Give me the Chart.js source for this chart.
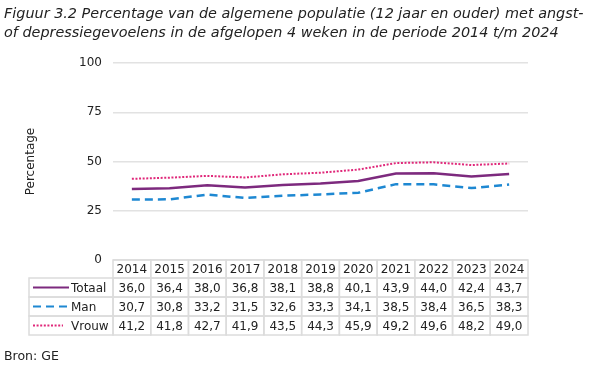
<!DOCTYPE html>
<html>
<head>
<meta charset="utf-8">
<script src="https://cdn.jsdelivr.net/npm/chart.js@4.4.1/dist/chart.umd.min.js"></script>
<style>
  html, body { margin: 0; padding: 0; background: #fff; }
  #wrap { position: relative; width: 600px; height: 367px; font-family: "DejaVu Sans", Verdana, sans-serif; color: #222; }
  #title { position: absolute; left: 4px; top: 4px; font-size: 14.4px; font-style: italic; line-height: 19px; white-space: nowrap; }
  #source { position: absolute; left: 4px; top: 348px; font-size: 12.5px; }
  canvas { position: absolute; left: 0; top: 0; }
</style>
</head>
<body>
<div id="wrap">
  <canvas id="chart" width="600" height="367"></canvas>
  <div id="title">Figuur 3.2 Percentage van de algemene populatie (12 jaar en ouder) met angst-<br>of depressiegevoelens in de afgelopen 4 weken in de periode 2014 t/m 2024</div>
  <div id="source">Bron: GE</div>
</div>
<script>
// data
const years = ['2014', '2015', '2016', '2017', '2018', '2019', '2020', '2021', '2022', '2023', '2024'];
const totaal = [36.0, 36.4, 38.0, 36.8, 38.1, 38.8, 40.1, 43.9, 44.0, 42.4, 43.7];
const man = [30.7, 30.8, 33.2, 31.5, 32.6, 33.3, 34.1, 38.5, 38.4, 36.5, 38.3];
const vrouw = [41.2, 41.8, 42.7, 41.9, 43.5, 44.3, 45.9, 49.2, 49.6, 48.2, 49.0];
const yTicks = [0, 25, 50, 75, 100];

const FONT = '"DejaVu Sans", Verdana, sans-serif';
const colors = { totaal: '#7d2a7e', man: '#1e88d2', vrouw: '#e0287a' };

const fmt = v => v.toFixed(1).replace('.', ',');

// draws the data table under the plot, columns follow the x scale
const dataTable = {
  id: 'dataTable',
  afterDraw(chart) {
    const ctx = chart.ctx;
    const x = chart.scales.x;
    const area = chart.chartArea;
    const colW = (area.right - area.left) / years.length;
    const top = area.bottom;
    const headH = 18, rowH = 19;
    const labelLeft = 29;
    const rows = [
      { name: 'Totaal', values: totaal, color: colors.totaal, dash: [], len: 36 },
      { name: 'Man', values: man, color: colors.man, dash: [8, 5], len: 36 },
      { name: 'Vrouw', values: vrouw, color: colors.vrouw, dash: [2, 1.6], len: 30 }
    ];

    ctx.save();
    ctx.strokeStyle = '#dcdcdc';
    ctx.lineWidth = 1.5;
    // header cells
    years.forEach((y, i) => {
      ctx.strokeRect(area.left + i * colW, top, colW, headH);
    });
    // body cells
    rows.forEach((r, ri) => {
      const y0 = top + headH + ri * rowH;
      ctx.strokeRect(labelLeft, y0, area.left - labelLeft, rowH);
      years.forEach((yr, i) => {
        ctx.strokeRect(area.left + i * colW, y0, colW, rowH);
      });
    });

    ctx.fillStyle = '#222';
    ctx.font = '12px ' + FONT;
    ctx.textAlign = 'center';
    ctx.textBaseline = 'middle';
    years.forEach((y, i) => {
      ctx.fillText(y, x.getPixelForValue(i), top + headH / 2 + 1);
    });
    rows.forEach((r, ri) => {
      const yc = top + headH + ri * rowH + rowH / 2 + 1;
      r.values.forEach((v, i) => {
        ctx.fillText(fmt(v), x.getPixelForValue(i), yc);
      });
      // legend key
      ctx.save();
      ctx.strokeStyle = r.color;
      ctx.lineWidth = 2;
      ctx.setLineDash(r.dash);
      ctx.beginPath();
      ctx.moveTo(33, yc - 1);
      ctx.lineTo(33 + r.len, yc - 1);
      ctx.stroke();
      ctx.restore();
      ctx.textAlign = 'left';
      ctx.fillText(r.name, 71, yc);
      ctx.textAlign = 'center';
    });
    ctx.restore();
  }
};

new Chart(document.getElementById('chart'), {
  type: 'line',
  data: {
    labels: years,
    datasets: [
      { label: 'Totaal', data: totaal, borderColor: colors.totaal, borderWidth: 2.5, pointRadius: 0, tension: 0 },
      { label: 'Man', data: man, borderColor: colors.man, borderWidth: 2.5, borderDash: [8, 5], pointRadius: 0, tension: 0 },
      { label: 'Vrouw', data: vrouw, borderColor: colors.vrouw, borderWidth: 2, borderDash: [2, 1.6], pointRadius: 0, tension: 0 }
    ]
  },
  options: {
    responsive: false,
    animation: false,
    layout: { padding: { left: 20, right: 72, top: 63, bottom: 107 } },
    plugins: { legend: { display: false }, tooltip: { enabled: false } },
    scales: {
      x: { display: false, offset: true },
      y: {
        min: 0, max: 100,
        afterFit: s => { s.width = 93; },
        afterBuildTicks: s => { s.ticks = yTicks.map(v => ({ value: v })); },
        border: { display: false },
        grid: { color: '#e2e2e2', lineWidth: 1.5, drawTicks: false },
        ticks: { color: '#222', font: { family: FONT, size: 12 }, padding: 11 },
        title: { display: true, text: 'Percentage', color: '#222', font: { family: FONT, size: 12 }, padding: { top: 4, bottom: 4 } }
      }
    }
  },
  plugins: [dataTable]
});
</script>
</body>
</html>
